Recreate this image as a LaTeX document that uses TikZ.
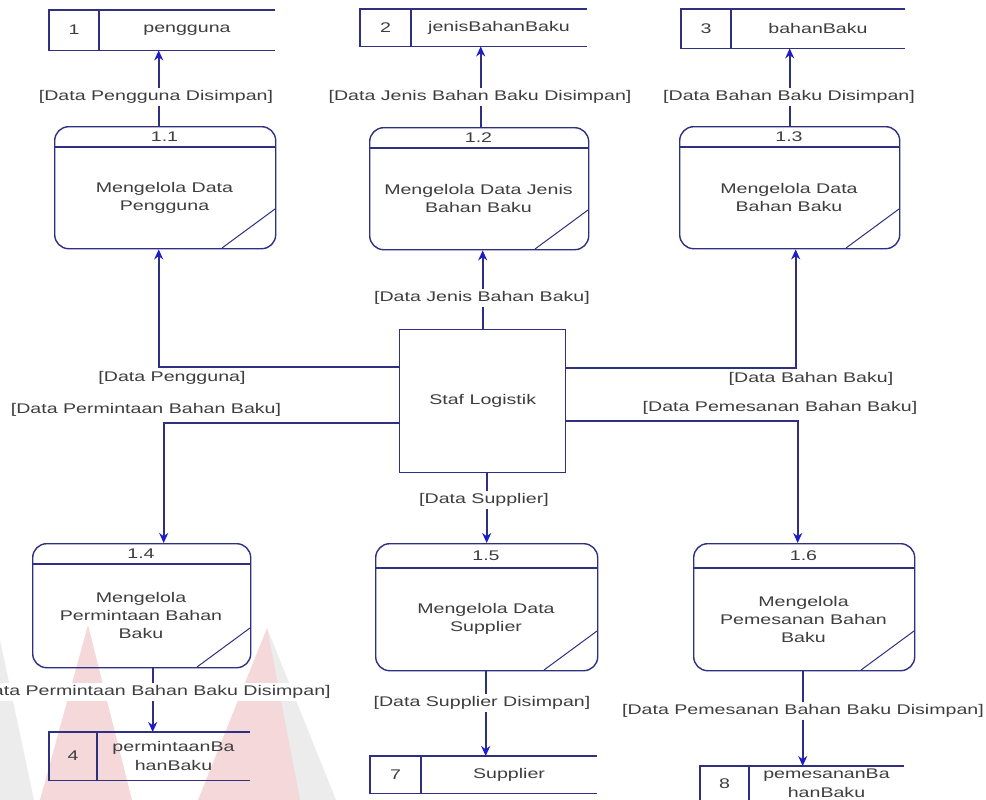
\documentclass[tikz,border=0pt]{standalone}
\usepackage{fontspec}
\setmainfont{Liberation Sans}[FakeStretch=1.4]
\usetikzlibrary{arrows.meta,calc}

\definecolor{dfdnavy}{RGB}{48,48,128}
\definecolor{dfdblue}{RGB}{28,28,205}
\definecolor{dfdtext}{RGB}{62,62,62}
\definecolor{wmred}{RGB}{205,45,55}
\definecolor{wmgrey}{RGB}{110,110,110}

% process: name, left, top, right, bottom, header y, number, text
\newcommand\dfdproc[8]{%
  \node[procbox, minimum width={#4-#2}, minimum height={#5-#3}, anchor=north west] (#1) at (#2,#3) {};
  \draw[dfd] (#2,#6) -- (#4,#6);
  \draw[dfd, line width=1pt] ({#4-53},#5) -- (#4,{#5-39});
  \node[txt] (#1n) at ({(#2+#4)/2},{(#3+#6)/2}) {#7};
  \node[txt] (#1t) at ({(#2+#4)/2},{(#6+#5)/2}) {#8};
}
% data store (open on the right): name, left, top, right, bottom, divider x, number, text
\newcommand\dfdstore[8]{%
  \node[inner sep=0pt, minimum width={#4-#2}, minimum height={#5-#3}, anchor=north west] (#1) at (#2,#3) {};
  \draw[dfd] (#1.north east) -- (#1.north west) -- (#1.south west) -- (#1.south east);
  \draw[dfd] (#6,#3) -- (#6,#5);
  \node[txt] (#1n) at ({(#2+#6)/2},{(#3+#5)/2}) {#7};
  \node[txt, font=\fontsize{14}{19}\selectfont] (#1t) at ({(#6+#4)/2},{(#3+#5)/2}) {#8};
}

\begin{document}
\begin{tikzpicture}[x=1pt, y=-1pt,
  dfd/.style={draw=dfdnavy, line width=1.4pt},
  procbox/.style={dfd, rectangle, rounded corners=14pt, inner sep=0pt},
  txt/.style={text=dfdtext, font=\fontsize{14}{18}\selectfont, align=center, inner sep=1pt},
  flowlabel/.style={txt, fill=white, inner sep=2pt},
  flow/.style={dfd, line width=1.6pt, -{Stealth[length=10pt, width=9pt, color=dfdblue]}}
]
\useasboundingbox[fill=white] (0,0) rectangle (986,800);

% faint logo in the background
\fill[wmgrey, opacity=0.13] (0,640) -- (34,800) -- (0,800) -- cycle;
\fill[wmred, opacity=0.18] (88,625) -- (40,800) -- (132,800) -- cycle;
\fill[wmred, opacity=0.18] (267,628) -- (198,800) -- (300,800) -- cycle;
\fill[wmgrey, opacity=0.13] (267,628) -- (300,800) -- (336,800) -- cycle;

% data stores
\dfdstore{s1}{49}{10}{275}{50}{99}{1}{pengguna}
\dfdstore{s2}{360}{9}{587}{46}{411}{2}{jenisBahanBaku}
\dfdstore{s3}{681}{9}{905}{48}{731}{3}{bahanBaku}
\dfdstore{s4}{49}{732}{250}{780}{97}{4}{permintaanBa\\hanBaku}
\dfdstore{s7}{370}{756}{597}{793}{421}{7}{Supplier}
\dfdstore{s8}{700}{766}{904}{801}{749}{8}{pemesananBa\\hanBaku}

% processes
\dfdproc{p11}{54}{126}{275}{248}{147}{1.1}{Mengelola Data\\Pengguna}
\dfdproc{p12}{369}{127}{588}{249}{148}{1.2}{Mengelola Data Jenis\\Bahan Baku}
\dfdproc{p13}{679}{126}{899}{248}{147}{1.3}{Mengelola Data\\Bahan Baku}
\dfdproc{p14}{32}{543}{250}{667}{564}{1.4}{Mengelola\\Permintaan Bahan\\Baku}
\dfdproc{p15}{375}{543}{597}{670}{568}{1.5}{Mengelola Data\\Supplier}
\dfdproc{p16}{693}{543}{914}{670}{568}{1.6}{Mengelola\\Pemesanan Bahan\\Baku}

% external entity
\node[dfd, rectangle, inner sep=0pt, minimum width=166pt, minimum height=143pt, anchor=north west] (staf) at (399,329) {};
\node[txt] (staft) at (staf.center) {Staf Logistik};

% flows from the entity to the processes
\draw[flow] ($(staf.west)+(0,-34.5)$) -| ($(p11.south)+(-6.5,0)$);
\draw[flow] ($(staf.west)+(0,21.5)$) -| ($(p14.north)+(22,0)$);
\draw[flow] (staf.north) -- ($(p12.south)+(3.5,0)$);
\draw[flow] ($(staf.east)+(0,-33.5)$) -| ($(p13.south)+(6,0)$);
\draw[flow] ($(staf.east)+(0,19.5)$) -| ($(p16.north)+(-6.5,0)$);
\draw[flow] ($(staf.south)+(4,0)$) -- (p15.north);

% flows from the processes to the stores
\coordinate (o11) at ($(p11.north)+(-6.5,0)$);
\coordinate (o12) at ($(p12.north)+(1.5,0)$);
\coordinate (o14) at ($(p14.south)+(11,0)$);
\coordinate (o15) at ($(p15.south)+(-1,0)$);
\coordinate (o16) at ($(p16.south)+(-1.5,0)$);
\draw[flow] (o11) -- (o11 |- s1.south);
\draw[flow] (o12) -- (o12 |- s2.south);
\draw[flow] (p13.north) -- (p13.north |- s3.south);
\draw[flow] (o14) -- (o14 |- s4.north);
\draw[flow] (o15) -- (o15 |- s7.north);
\draw[flow] (o16) -- (o16 |- s8.north);

% flow labels
\node[flowlabel] (l1) at (156,97) {[Data Pengguna Disimpan]};
\node[flowlabel] (l2) at (480,97) {[Data Jenis Bahan Baku Disimpan]};
\node[flowlabel] (l3) at (789,97) {[Data Bahan Baku Disimpan]};
\node[flowlabel] (l4) at (482,298) {[Data Jenis Bahan Baku]};
\node[flowlabel] (l5) at (172,378) {[Data Pengguna]};
\node[flowlabel] (l6) at (146,410) {[Data Permintaan Bahan Baku]};
\node[flowlabel] (l7) at (811,379) {[Data Bahan Baku]};
\node[flowlabel] (l8) at (780,408) {[Data Pemesanan Bahan Baku]};
\node[flowlabel] (l9) at (484,500) {[Data Supplier]};
\node[flowlabel] (l10) at (152,692) {[Data Permintaan Bahan Baku Disimpan]};
\node[flowlabel] (l11) at (482,703) {[Data Supplier Disimpan]};
\node[flowlabel] (l12) at (803,711) {[Data Pemesanan Bahan Baku Disimpan]};
\end{tikzpicture}
\end{document}
